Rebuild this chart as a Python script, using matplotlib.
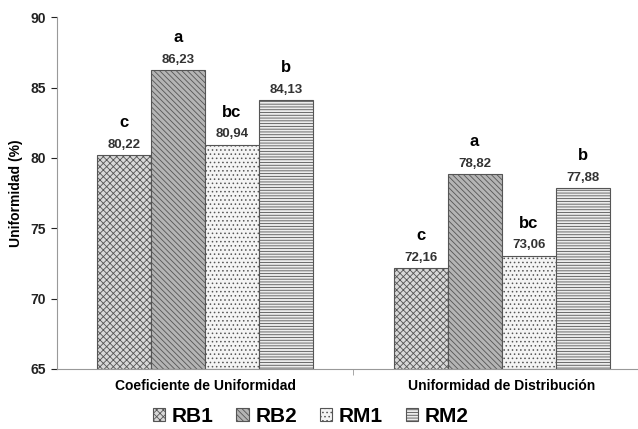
import matplotlib.pyplot as plt
import numpy as np

plt.rcParams['font.family'] = ['Liberation Sans', 'DejaVu Sans']
plt.rcParams['hatch.linewidth'] = 0.6

# Datos
categorias = ['Coeficiente de Uniformidad', 'Uniformidad de Distribución']
tratamientos = ['RB1', 'RB2', 'RM1', 'RM2']
valores = {
    'RB1': [80.22, 72.16],
    'RB2': [86.23, 78.82],
    'RM1': [80.94, 73.06],
    'RM2': [84.13, 77.88],
}
letras = {
    'RB1': ['c', 'c'],
    'RB2': ['a', 'a'],
    'RM1': ['bc', 'bc'],
    'RM2': ['b', 'b'],
}

# Estilos de relleno
colores = {'RB1': '#d8d8d8', 'RB2': '#b4b4b4', 'RM1': '#f4f4f4', 'RM2': '#ececec'}
tramas = {'RB1': 'xxxxx', 'RB2': '\\\\\\\\\\\\', 'RM1': '....', 'RM2': '------'}

fig = plt.figure(figsize=(6.38, 4.29), dpi=100)
ax = fig.add_axes([0.089, 0.14, 0.911, 0.82])

x = np.arange(len(categorias))
ancho = 0.182
for i, t in enumerate(tratamientos):
    pos = x + (i - 1.5) * ancho
    ax.bar(pos, np.array(valores[t]) - 65, ancho, bottom=65,
           color=colores[t], edgecolor='#555555', hatch=tramas[t],
           linewidth=0.8, label=t)
    for xp, v, l in zip(pos, valores[t], letras[t]):
        ax.annotate(f'{v:.2f}'.replace('.', ','), (xp, v), xytext=(0, 3),
                    textcoords='offset points', ha='center', va='bottom',
                    fontsize=9.5, fontweight='bold', color='#333333')
        ax.annotate(l, (xp, v), xytext=(0, 18), textcoords='offset points',
                    ha='center', va='bottom', fontsize=12, fontweight='bold')

ax.set_ylim(65, 90)
ax.set_yticks([65, 70, 75, 80, 85, 90])
ax.set_xlim(-0.5, 1.46)
ax.set_xticks(x)
ax.set_xticklabels(categorias, fontsize=10, fontweight='bold')
ax.set_xticks([0.5], minor=True)
ax.tick_params(axis='x', which='major', length=0, pad=7)
ax.tick_params(axis='x', which='minor', length=4, color='#999999')
ax.tick_params(axis='y', labelsize=10, colors='#222222', length=4)
for lbl in ax.get_yticklabels():
    lbl.set_fontweight('bold')
ax.set_ylabel('Uniformidad (%)', fontsize=10, fontweight='bold', labelpad=6)

ax.spines['top'].set_visible(False)
ax.spines['right'].set_visible(False)
ax.spines['left'].set_color('#999999')
ax.spines['bottom'].set_color('#999999')

fig.legend(loc='lower center', bbox_to_anchor=(0.487, -0.037), ncol=4,
           frameon=False, prop={'size': 15, 'weight': 'bold'},
           handlelength=0.6, handleheight=0.6, handletextpad=0.3,
           columnspacing=1.1)

fig.savefig('out.png', dpi=100)
